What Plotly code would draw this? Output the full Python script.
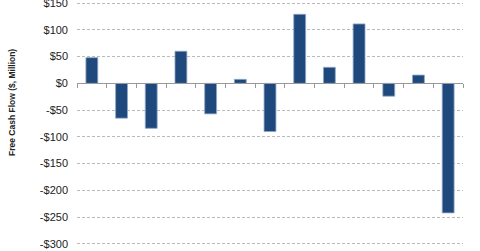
import plotly.graph_objects as go

periods = list(range(1, 14))
free_cash_flow = [48, -65, -84, 60, -57, 7.5, -90, 129, 30, 111, -24, 15.5, -242]
y_ticks = [150, 100, 50, 0, -50, -100, -150, -200, -250, -300]
y_tick_labels = ["$150", "$100", "$50", "$0", "-$50", "-$100", "-$150", "-$200", "-$250", "-$300"]
y_title = "Free Cash Flow ($, Million)"

fig = go.Figure(go.Bar(
    x=periods, y=free_cash_flow, width=0.4,
    marker=dict(color="#1f497d", line=dict(color="#8fa6c6", width=0.8)),
))

y_min, y_max = -302, 152
fig.update_layout(
    width=480, height=251,
    margin=dict(l=77, r=17, t=2, b=6, autoexpand=False),
    plot_bgcolor="white", paper_bgcolor="white",
    showlegend=False,
    font=dict(family="Liberation Sans, Arial", size=11, color="#222"),
    xaxis=dict(
        range=[0.5, 13.5], showgrid=False, zeroline=False,
        showticklabels=False, automargin=False,
        tickvals=[i + 0.5 for i in range(0, 14)],
        ticks="outside", ticklen=4, tickcolor="#999",
        showline=True, linecolor="#999", linewidth=1,
        anchor="free", position=(0 - y_min) / (y_max - y_min),
    ),
    yaxis=dict(
        range=[y_min, y_max], tickvals=y_ticks, ticktext=y_tick_labels,
        showgrid=True, gridcolor="#bbbbbb", griddash="3px,2px", gridwidth=1,
        zeroline=False, showline=False, ticks="", automargin=False,
        ticklabelstandoff=8, ticklabeloverflow="allow",
    ),
    annotations=[dict(
        text="<b>" + y_title + "</b>", textangle=-90,
        xref="paper", yref="paper", x=(12 - 77) / 386, y=(245 - 103) / 243,
        xanchor="center", yanchor="middle", showarrow=False,
        font=dict(size=8.5, color="#222"),
    )],
)

fig.write_html("out.html")
